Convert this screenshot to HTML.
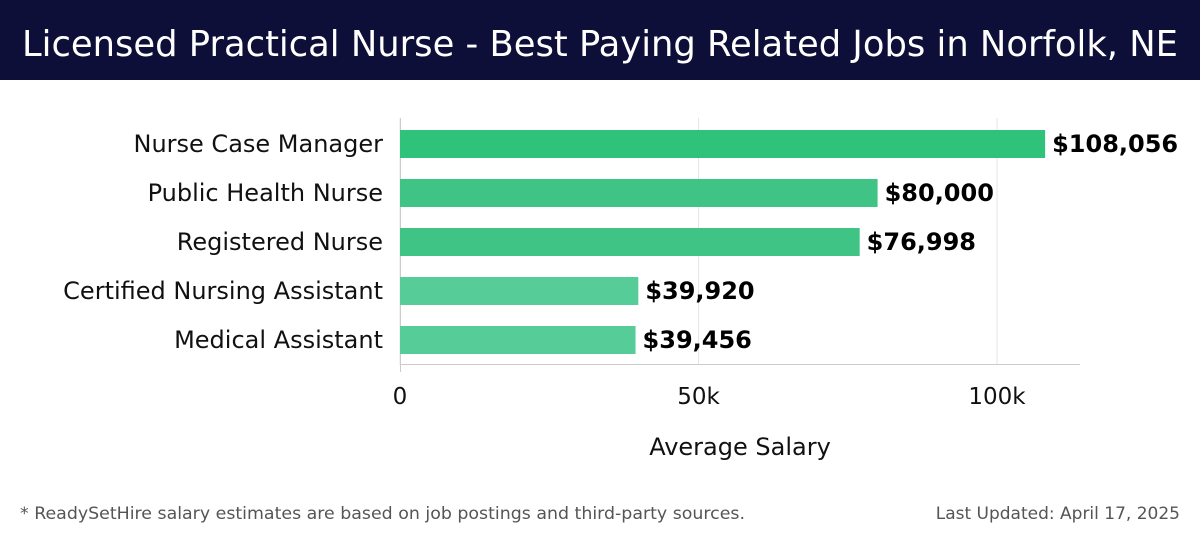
<!DOCTYPE html>
<html><head><meta charset="utf-8"><style>
body{margin:0;width:1200px;height:540px;background:#fff;font-family:"Liberation Sans","DejaVu Sans",sans-serif;overflow:hidden;position:relative}
#titlebar{position:absolute;left:0;top:0;width:1200px;height:80px;background:#0e0f38}
</style></head><body>
<div id="titlebar"></div>
<svg width="1200" height="80" style="position:absolute;left:0;top:0"><text x="22" y="56" font-size="36" fill="#fff" font-family="DejaVu Sans, sans-serif" textLength="1156" lengthAdjust="spacingAndGlyphs">Licensed Practical Nurse - Best Paying Related Jobs in Norfolk, NE</text></svg>
<svg id="chart" width="1200" height="460" style="position:absolute;left:0;top:80px;overflow:visible"><g id="g" transform="translate(0,-80)"></g></svg>
<svg width="1200" height="40" style="position:absolute;left:0;top:495px">
<text x="20" y="24" font-size="17" fill="#555" font-family="DejaVu Sans, sans-serif" textLength="725" lengthAdjust="spacingAndGlyphs">* ReadySetHire salary estimates are based on job postings and third-party sources.</text>
<text x="1180" y="24" font-size="17" fill="#555" text-anchor="end" font-family="DejaVu Sans, sans-serif">Last Updated: April 17, 2025</text>
</svg>
<script>
const categories=["Nurse Case Manager","Public Health Nurse","Registered Nurse","Certified Nursing Assistant","Medical Assistant"];
const values=[108056,80000,76998,39920,39456];
const valueLabels=["$108,056","$80,000","$76,998","$39,920","$39,456"];
const ticks=[0,50000,100000];
const tickLabels=["0","50k","100k"];
const colors=["#2ec27a","#3fc486","#3fc486","#56cc98","#56cc98"];
const svg=document.getElementById('g');
const NS='http://www.w3.org/2000/svg';
const x=v=>400+v*597/100000;
const yc=i=>144+i*49;
const FF='DejaVu Sans, sans-serif';
function mk(t,a,txt){const e=document.createElementNS(NS,t);for(const k in a)e.setAttribute(k,a[k]);if(txt!==undefined)e.textContent=txt;svg.appendChild(e);return e;}
ticks.forEach((t,i)=>{
const g=mk('line',{x1:x(t),x2:x(t),y1:118,y2:365,stroke:'#e6e6e6','stroke-width':1});


const l=mk('text',{x:x(t),y:404,'font-size':23,'text-anchor':'middle',fill:'#111','font-family':FF},tickLabels[i]);


});
const ax=mk('line',{x1:400,x2:1080,y1:364.5,y2:364.5,stroke:'#ccc','stroke-width':1});


const ay=mk('line',{x1:400.5,x2:400.5,y1:118,y2:372,stroke:'#ccc','stroke-width':1});


categories.forEach((c,i)=>{
const r=mk('rect',{x:400,y:yc(i)-14,width:x(values[i])-400,height:28,fill:colors[i]});


const cl=mk('text',{x:383,y:yc(i)+8,'font-size':24,'text-anchor':'end',fill:'#111','font-family':FF},c);


const vl=mk('text',{x:x(values[i])+7,y:yc(i)+8,'font-size':24,'font-weight':'bold',fill:'#000','font-family':FF},valueLabels[i]);


});
const at=mk('text',{x:740,y:455,'font-size':24,'text-anchor':'middle',fill:'#111','font-family':FF},'Average Salary');


</script>
</body></html>
